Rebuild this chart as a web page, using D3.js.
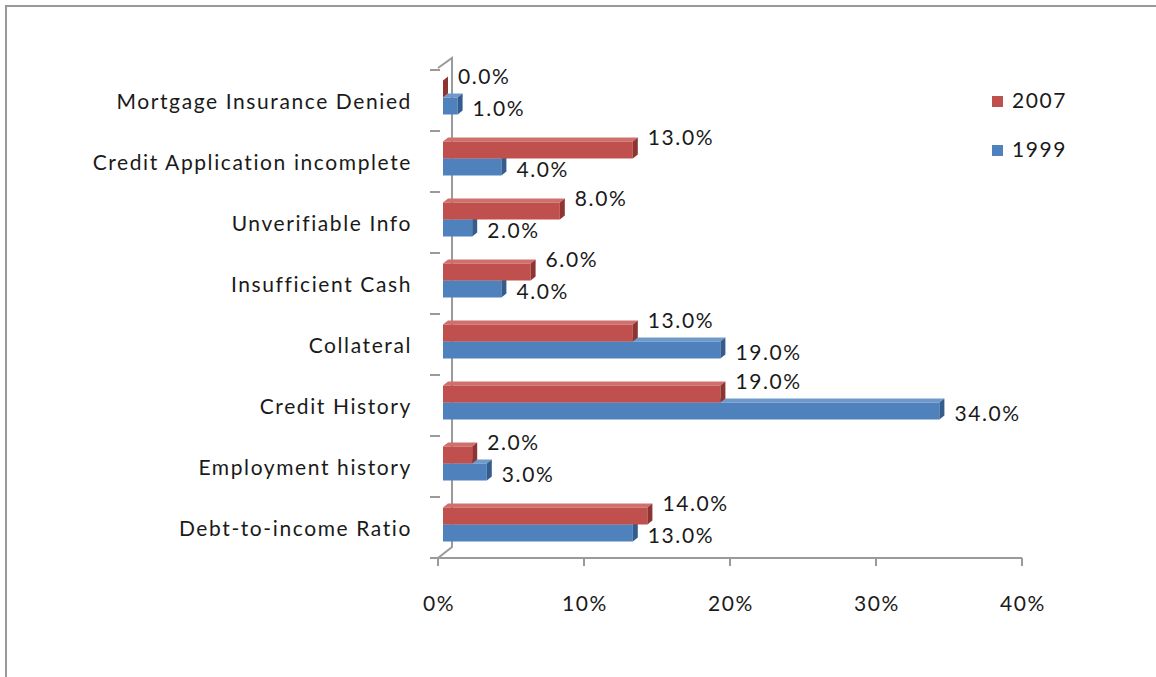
<!DOCTYPE html>
<html>
<head>
<meta charset="utf-8">
<script src="https://cdn.jsdelivr.net/npm/d3@7"></script>
<style>
  html, body { margin: 0; padding: 0; background: #fff; }
  svg { display: block; }
  text { font-family: Lato, "Open Sans", sans-serif; fill: #1a1a1a; letter-spacing: 1.6px; }
</style>
</head>
<body>
<svg id="chart" width="1156" height="677"></svg>
<script>
const categories = [
  "Mortgage Insurance Denied",
  "Credit Application incomplete",
  "Unverifiable Info",
  "Insufficient Cash",
  "Collateral",
  "Credit History",
  "Employment history",
  "Debt-to-income Ratio"
];
const values2007 = [0, 13, 8, 6, 13, 19, 2, 14];
const values1999 = [1, 4, 2, 4, 19, 34, 3, 13];
const seriesNames = ["2007", "1999"];
const xTicks = [0, 10, 20, 30, 40];

const svg = d3.select("#chart");
const FS = 21;

// outer frame
svg.append("line").attr("x1", 5).attr("x2", 1156).attr("y1", 6).attr("y2", 6)
  .attr("stroke", "#999").attr("stroke-width", 2);
svg.append("line").attr("x1", 6).attr("x2", 6).attr("y1", 5).attr("y2", 677)
  .attr("stroke", "#999").attr("stroke-width", 2);

const x = d3.scaleLinear().domain([0, 40]).range([438, 1022]);
const y = d3.scaleBand().domain(categories).range([70, 558]);
const DX = 5, DY = 4;     // 3D depth offset
const wallDX = 14, wallDY = 11;

const axisColor = "#9a9a9a";
const g = svg.append("g");

// back wall line
g.append("path")
  .attr("d", `M${x(0)},${y.range()[0] - 2} L${x(0) + wallDX},${y.range()[0] - 12} L${x(0) + wallDX},${y.range()[1] - wallDY} L${x(0)},${y.range()[1]}`)
  .attr("fill", "none").attr("stroke", axisColor).attr("stroke-width", 2);

// category ticks
const bounds = categories.map(c => y(c)).concat([y.range()[1]]);
g.selectAll(".ctick").data(bounds).join("line")
  .attr("x1", x(0) - 8).attr("x2", x(0) + 2)
  .attr("y1", d => d).attr("y2", d => d)
  .attr("stroke", axisColor).attr("stroke-width", 2);

// x axis
g.append("line").attr("x1", x(0)).attr("x2", x(40))
  .attr("y1", y.range()[1]).attr("y2", y.range()[1])
  .attr("stroke", axisColor).attr("stroke-width", 2);
g.selectAll(".xtick").data(xTicks).join("line")
  .attr("x1", d => x(d)).attr("x2", d => x(d))
  .attr("y1", y.range()[1]).attr("y2", y.range()[1] + 8)
  .attr("stroke", axisColor).attr("stroke-width", 2);
g.selectAll(".xlab").data(xTicks).join("text")
  .attr("x", d => x(d) + 1).attr("y", y.range()[1] + 53)
  .attr("text-anchor", "middle").attr("font-size", FS)
  .text(d => d + "%");

// category labels
g.selectAll(".clab").data(categories).join("text")
  .attr("x", 412).attr("y", d => y(d) + y.bandwidth() / 2 + 1)
  .attr("dy", "0.35em").attr("text-anchor", "end").attr("font-size", FS)
  .text(d => d);

const colors = {
  "2007": { front: "#C0504D", top: "#D0706D", side: "#8E3532" },
  "1999": { front: "#4F81BD", top: "#7099CB", side: "#345D8E" }
};

function drawBar(sel, x0, x1, yTop, h, col) {
  const w = x1 - x0;
  if (w > 0) {
    sel.append("path")
      .attr("d", `M${x0},${yTop} L${x1},${yTop} L${x1 + DX},${yTop - DY} L${x0 + DX},${yTop - DY}Z`)
      .attr("fill", col.top);
    sel.append("rect").attr("x", x0).attr("y", yTop).attr("width", w).attr("height", h)
      .attr("fill", col.front);
  }
  sel.append("path")
    .attr("d", `M${x1},${yTop} L${x1 + DX},${yTop - DY} L${x1 + DX},${yTop + h - DY} L${x1},${yTop + h}Z`)
    .attr("fill", col.side);
}

const BH = 17;
const bars = svg.append("g");
categories.forEach((c, i) => {
  const cy = y(c) + y.bandwidth() / 2;
  const redTop = cy - 20;
  const blueTop = cy - 3;
  const x0 = x(0) + DX;
  // 1999 (blue) first, then 2007 (red)
  const gb = bars.append("g");
  drawBar(gb, x0, x(values1999[i]) + DX, blueTop, BH, colors["1999"]);
  const gr = bars.append("g");
  drawBar(gr, x0, x(values2007[i]) + DX, redTop, BH, colors["2007"]);
  // labels
  bars.append("text")
    .attr("x", x(values2007[i]) + DX + DX + 10).attr("y", redTop - 4)
    .attr("dy", "0.35em").attr("font-size", FS)
    .text(values2007[i].toFixed(1) + "%");
  bars.append("text")
    .attr("x", x(values1999[i]) + DX + DX + 10).attr("y", blueTop + BH - 6)
    .attr("dy", "0.35em").attr("font-size", FS)
    .text(values1999[i].toFixed(1) + "%");
});

// legend
const legend = svg.append("g");
seriesNames.forEach((s, i) => {
  const ly = 101 + i * 49;
  legend.append("rect").attr("x", 992).attr("y", ly - 5).attr("width", 11).attr("height", 11)
    .attr("fill", colors[s].front);
  legend.append("text").attr("x", 1012).attr("y", ly).attr("dy", "0.35em")
    .attr("font-size", FS).text(s);
});
</script>
</body>
</html>
